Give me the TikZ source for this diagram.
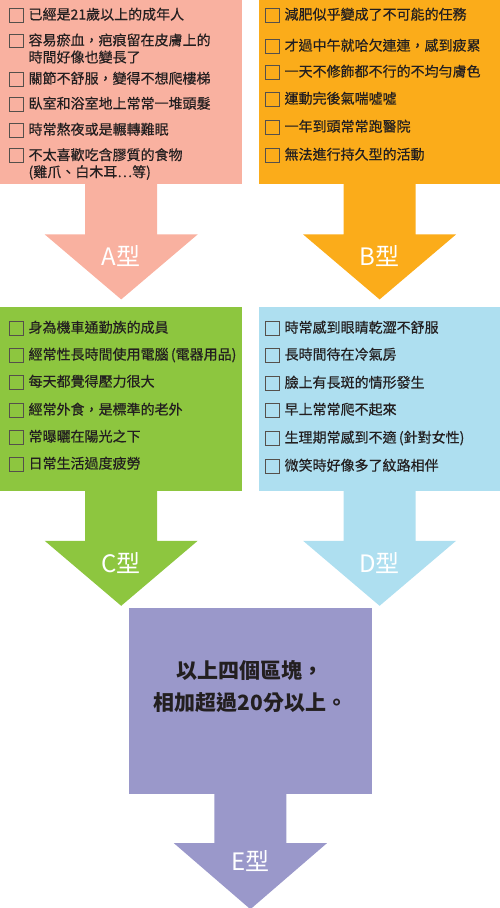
\documentclass[tikz,border=0pt]{standalone}
\usepackage{fontspec}
\setmainfont{Noto Sans CJK TC}
\newfontfamily\itemfont[FakeBold=0.5]{Noto Sans CJK TC}
\usetikzlibrary{positioning,calc}

\definecolor{colA}{RGB}{249,177,160}
\definecolor{colB}{RGB}{251,172,26}
\definecolor{colC}{RGB}{141,198,63}
\definecolor{colD}{RGB}{174,223,240}
\definecolor{colE}{RGB}{154,152,202}
\definecolor{ink}{RGB}{35,31,32}
\definecolor{boxline}{RGB}{85,80,75}

\newcommand{\chkbox}{{\color{boxline}\setlength{\fboxsep}{0pt}\setlength{\fboxrule}{0.7pt}\raisebox{-2pt}{\fbox{\rule{0pt}{13pt}\rule{13pt}{0pt}}}}\hspace{5pt}}

\begin{document}
\begin{tikzpicture}[
            x=1pt, y=-1pt,
            panel/.style={
                    rectangle,
                    inner sep=0pt,
                    minimum width=242pt,
                    minimum height=184pt,
                    anchor=north west
                },
            item/.style={
                    anchor=west,
                    inner sep=0pt,
                    align=left,
                    text=ink,
                    font=\itemfont\fontsize{14}{17}\selectfont
                },
            tag/.style={
                    inner sep=0pt,
                    text=white,
                    font=\fontsize{24}{26}\selectfont
                },
            sumText/.style={
                    inner sep=0pt,
                    align=center,
                    text=ink,
                    font=\fontsize{21}{32}\selectfont\bfseries
                }
            ]

            \useasboundingbox (0,0) rectangle (500,908);

            % 1. Bloques superiores A y B
            \node[panel, fill=colA] (panelA) at (0,0) {};
            \node[panel, fill=colB, right=16pt of panelA.north east, anchor=north west] (panelB) {};

            % 2. Bloques centrales C y D
            \node[panel, fill=colC, below=122pt of panelA.south west, anchor=north west] (panelC) {};
            \node[panel, fill=colD, right=16pt of panelC.north east, anchor=north west] (panelD) {};

            % --- LISTAS DE CONTROL ---

            % 3. Lista A
            \foreach \y/\t [count=\i] in {
                    15/{\chkbox 已經是21歲以上的成年人},
                    48.5/{\chkbox 容易瘀血，疤痕留在皮膚上的\\\hphantom{\chkbox}時間好像也變長了},
                    79/{\chkbox 關節不舒服，變得不想爬樓梯},
                    104/{\chkbox 臥室和浴室地上常常一堆頭髮},
                    130/{\chkbox 時常熬夜或是輾轉難眠},
                    164/{\chkbox 不太喜歡吃含膠質的食物\\\hphantom{\chkbox}(雞爪、白木耳…等)}}
                \node[item] (a\i) at (9,\y) {\t};

            % 4. Lista B
            \foreach \y/\t [count=\i] in {
                    15/減肥似乎變成了不可能的任務,
                    46/才過中午就哈欠連連，感到疲累,
                    72/一天不修飾都不行的不均勻膚色,
                    99/運動完後氣喘噓噓,
                    127/一年到頭常常跑醫院,
                    155/無法進行持久型的活動}
                \node[item] (b\i) at (265,\y) {\chkbox \t};

            % 5. Lista C
            \foreach \y/\t [count=\i] in {
                    328/身為機車通勤族的成員,
                    355/{經常性長時間使用電腦\,(電器用品)},
                    382/每天都覺得壓力很大,
                    410/經常外食，是標準的老外,
                    437/常曝曬在陽光之下,
                    464/日常生活過度疲勞}
                \node[item] (c\i) at (9,\y) {\chkbox \t};

            % 6. Lista D
            \foreach \y/\t [count=\i] in {
                    328/時常感到眼睛乾澀不舒服,
                    355/長時間待在冷氣房,
                    383/臉上有長斑的情形發生,
                    410/早上常常爬不起來,
                    438/{生理期常感到不適\,(針對女性)},
                    466/微笑時好像多了紋路相伴}
                \node[item] (d\i) at (265,\y) {\chkbox \t};

            % --- FLECHAS DE BLOQUE ---

            % 7. Flechas A, B, C y D
            \foreach \p/\c/\l in {panelA/colA/A, panelB/colB/B, panelC/colC/C, panelD/colD/D} {
                \fill[\c] (\p.south) ++(-36,-1) -- ++(0,51) -- ++(-40.5,0) -- ++(76.5,65)
                    -- ++(76.5,-65) -- ++(-40.5,0) -- ++(0,-51) -- cycle;
                \node[tag] (tag\l) at ($(\p.south)+(0,72)$) {\l{}型};
            }

            % 8. Bloque final E
            \node[panel, fill=colE, minimum width=243pt, minimum height=186pt, anchor=north]
                (panelE) at ($(panelC.south)!.5!(panelD.south)+(0,117)$) {};
            \node[sumText] (sumE) at ($(panelE.center)+(0,-14)$) {以上四個區塊，\\相加超過20分以上。};

            % 9. Flecha E
            \fill[colE] (panelE.south) ++(-36,-1) -- ++(0,50) -- ++(-40.5,0) -- ++(76.5,66)
                -- ++(76.5,-66) -- ++(-40.5,0) -- ++(0,-50) -- cycle;
            \node[tag] (tagE) at ($(panelE.south)+(0,67)$) {E型};

        \end{tikzpicture}
\end{document}
